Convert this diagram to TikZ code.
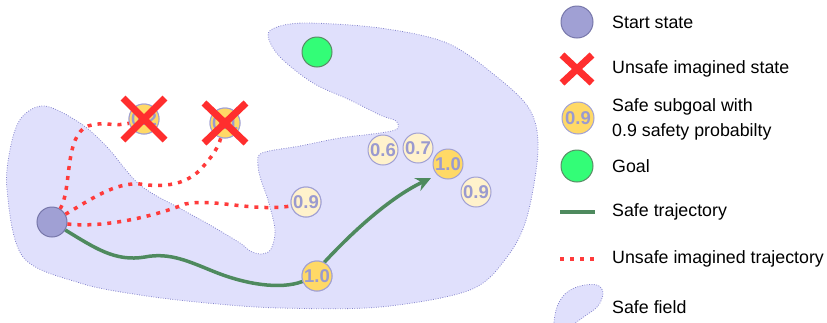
\documentclass[tikz,border=0pt]{standalone}
\usepackage{fontspec}
\setmainfont{Liberation Sans}
\usetikzlibrary{arrows.meta,calc}
\definecolor{fieldfill}{HTML}{E0E0FC}
\definecolor{fieldline}{HTML}{8484CC}
\definecolor{startfill}{HTML}{A0A0D4}
\definecolor{startline}{HTML}{7777AA}
\definecolor{goalfill}{HTML}{33FD77}
\definecolor{goalline}{HTML}{5A8A66}
\definecolor{gold}{HTML}{FFD966}
\definecolor{pale}{HTML}{FFF2CC}
\definecolor{subline}{HTML}{A0A0D4}
\definecolor{subtext}{HTML}{9A9ACF}
\definecolor{safegreen}{HTML}{4E8A5E}
\definecolor{unsafered}{HTML}{FF3B3B}
\definecolor{xred}{HTML}{FF2E2E}
\tikzset{
  field/.style={fill=fieldfill, draw=fieldline, line width=0.8pt, dash pattern=on 0.8pt off 1.6pt},
  startnode/.style={circle, draw=startline, fill=startfill, line width=1pt, minimum size=30pt, inner sep=0pt},
  goalnode/.style={circle, draw=goalline, fill=goalfill, line width=1pt, minimum size=30pt, inner sep=0pt},
  subgoal/.style={circle, draw=subline, line width=1pt, minimum size=30pt, inner sep=0pt,
    font=\fontsize{18.5}{18.5}\selectfont\bfseries, text=subtext},
  hisub/.style={subgoal, fill=gold},
  losub/.style={subgoal, fill=pale},
  unsafe/.style={draw=unsafered, line width=3.5pt, dash pattern=on 4pt off 6pt},
  safe/.style={draw=safegreen, line width=3.5pt},
  xmark/.style={draw=xred, line width=7pt},
  legendtext/.style={anchor=west, font=\fontsize{17.8}{25}\selectfont, inner sep=0pt, align=left},
}
\begin{document}
\begin{tikzpicture}[x=1pt,y=-1pt]
\useasboundingbox (0,0) rectangle (827,322);
\clip (0,0) rectangle (827,322);
% safe field
\path[field] plot[smooth cycle, tension=0.55] coordinates {
 (262,153) (258,165) (261,180) (268,200) (275,230) (271,249) (262,254) (250,251)
 (240,243) (210,225) (183,210) (140,185) (107,147) (80,123) (45,106) (22,117)
 (11,145) (7,190) (23,257) (80,283) (140,295) (207,303) (280,308) (380,307)
 (470,290) (507,257) (527,217) (538,150) (530,110) (497,77) (447,43) (380,28)
 (307,23) (277,27) (268,36) (280,57) (313,83) (350,100) (380,115) (396,121)
 (397,129) (380,133) (340,138) (300,146)};
% nodes
\node[startnode] (start) at (52,222) {};
\node[goalnode] (goal) at (317,52) {};
\node[hisub] (s02) at (144,119) {0.2};
\node[hisub] (s01) at (225,123) {0.1};
\node[losub] (s09a) at (306,202) {0.9};
\node[hisub] (s10b) at (317,276) {1.0};
\node[losub] (s06) at (383,150) {0.6};
\node[losub] (s07) at (418,148) {0.7};
\node[hisub] (s10c) at (448,164) {1.0};
\node[losub] (s09b) at (476,192) {0.9};
\coordinate (tip) at (431,178);
% unsafe imagined trajectories
\draw[unsafe] (start) .. controls (72,190) and (64,135) .. (88,126) .. controls (102,121) and (116,127) .. (s02);
\draw[unsafe] (start) .. controls (90,200) and (115,182) .. (140,184) .. controls (165,188) and (186,184) .. (200,170) .. controls (212,157) and (218,148) .. (s01);
\draw[unsafe] (start) .. controls (100,228) and (150,218) .. (185,204) .. controls (215,198) and (250,212) .. (s09a.195);
% safe trajectory
\draw[safe] (start) .. controls (95,248) and (115,262) .. (145,257) .. controls (170,252) and (190,262) .. (215,272) .. controls (245,284) and (280,290) .. (s10b);
\draw[safe, -{Stealth[length=15pt,width=14pt,inset=5pt]}] (s10b.62) .. controls (345,240) and (385,200) .. (tip);
% redraw subgoal circles on top of the trajectories
\node[hisub] at (s02) {0.2};
\node[hisub] at (s01) {0.1};
\node[losub] at (s09a) {0.9};
\node[hisub] at (s10b) {1.0};
% X marks
\draw[xmark] ($(s02)+(-21,-21)$) -- ($(s02)+(21,21)$);
\draw[xmark] ($(s02)+(21,-21)$) -- ($(s02)+(-21,21)$);
\draw[xmark] ($(s01)+(-21,-20)$) -- ($(s01)+(21,20)$);
\draw[xmark] ($(s01)+(21,-20)$) -- ($(s01)+(-21,20)$);
% legend
\node[startnode, minimum size=32pt] (lstart) at (577,22) {};
\node[legendtext] (tstart) at (612,22) {Start state};
\coordinate (lx) at (577,69);
\draw[xmark] ($(lx)+(-15,-14)$) -- ($(lx)+(15,14)$);
\draw[xmark] ($(lx)+(15,-14)$) -- ($(lx)+(-15,14)$);
\node[legendtext] (tunsafe) at (612,69) {Unsafe imagined state};
\node[hisub, minimum size=32pt] (lsub) at (578,118) {0.9};
\node[legendtext] (tsub) at (612,119) {Safe subgoal with\\0.9 safety probabilty};
\node[goalnode, minimum size=32pt] (lgoal) at (577,166) {};
\node[legendtext] (tgoal) at (612,166) {Goal};
\coordinate (lsa) at (560,212);
\coordinate (lsb) at (595,212);
\draw[safe] (lsa) -- (lsb);
\node[legendtext] (tsafe) at (612,212) {Safe trajectory};
\coordinate (lua) at (560,259);
\coordinate (lub) at (595,259);
\draw[unsafe] (lua) -- (lub);
\node[legendtext] (tutraj) at (612,259) {Unsafe imagined trajectory};
\path[field] plot[smooth cycle, tension=0.6] coordinates {
 (556,310) (565,294) (580,286) (597,285) (603,293) (598,306) (585,316) (570,326) (555,332)};
\node[legendtext] (tfield) at (612,307) {Safe field};
\end{tikzpicture}
\end{document}
